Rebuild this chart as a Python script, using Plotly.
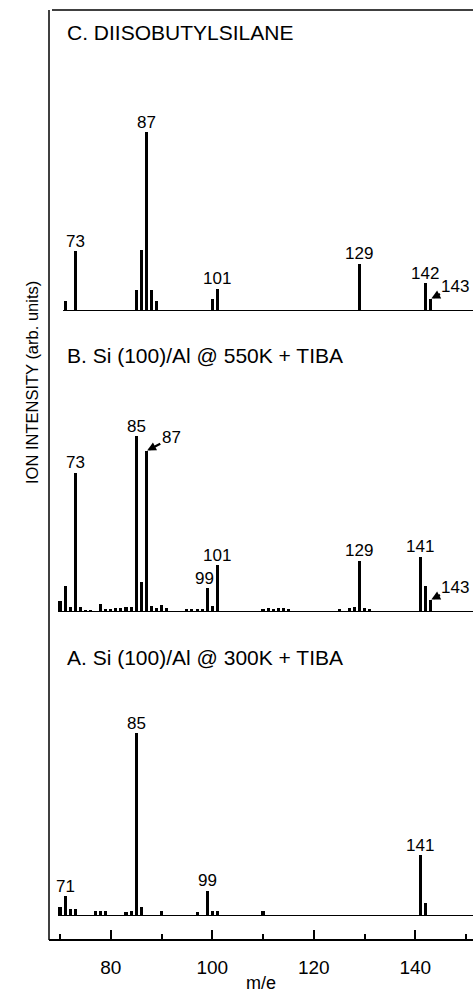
import plotly.graph_objects as go

# ---------------- data (m/e, relative intensity %) ----------------
c_mz = [71, 73, 85, 86, 87, 88, 89, 100, 101, 129, 142, 143]
c_int = [5.6, 33.5, 11.7, 34, 100, 11.7, 5.6, 6.7, 12.3, 26.3, 15.6, 6.7]

b_mz = [70, 71, 72, 73, 74, 75, 76, 78, 79, 80, 81, 82, 83, 84, 85, 86, 87, 88, 89, 90, 91,
        95, 96, 97, 98, 99, 100, 101, 110, 111, 112, 113, 114, 115, 125, 127, 128, 129, 130,
        131, 141, 142, 143]
b_int = [6.3, 14.8, 2.8, 79, 2.8, 1.2, 1.2, 4.5, 1.7, 1.7, 2.3, 2.3, 2.8, 2.8, 100, 17, 91.5,
         3.4, 2.3, 4.0, 2.3, 1.7, 1.7, 1.7, 1.7, 13.6, 3.4, 26.7, 1.7, 2.3, 1.7, 2.3, 2.3, 1.7,
         1.7, 2.3, 2.8, 29, 2.3, 1.7, 31.3, 14.8, 6.8]

a_mz = [70, 71, 72, 73, 77, 78, 79, 83, 84, 85, 86, 90, 97, 99, 100, 101, 110, 141, 142]
a_int = [4.9, 10.9, 3.8, 3.8, 2.7, 2.7, 2.7, 2.2, 2.7, 100, 4.9, 2.7, 2.2, 13.7, 2.7, 2.7,
         2.7, 33.3, 7.1]

c_labels = [73, 87, 101, 129, 142]
c_arrow_labels = [143]
b_labels = [73, 85, 99, 101, 129, 141]
b_arrow_labels = [87, 143]
a_labels = [71, 85, 99, 141]

titles = ["C. DIISOBUTYLSILANE", "B. Si (100)/Al @ 550K + TIBA", "A. Si (100)/Al @ 300K + TIBA"]
baseline_start = [70.6, 70.2, 69.8]
x_ticks = [80, 100, 120, 140]

# ---------------- layout geometry (pixels) ----------------
W, H = 473, 993
L, R, T, B = 49, 0, 10, 53
PH = H - T - B
PW = W - L - R


def fy(py):
    return (H - B - py) / PH


def fx(px):
    return (px - L) / PW


FONT = "Liberation Sans, Arial, Helvetica, sans-serif"
xr = [67.83, 151.38]

# panel: (axis name, baseline px, px per 100 units, top px)
panels = [
    ("y3", 311, 179, 10, c_mz, c_int, c_labels, c_arrow_labels, baseline_start[0]),
    ("y2", 612, 176, 330, b_mz, b_int, b_labels, b_arrow_labels, baseline_start[1]),
    ("y", 916, 183, 640, a_mz, a_int, a_labels, [], baseline_start[2]),
]
title_py = [32, 355, 657]

fig = go.Figure()
annotations = []
layout_axes = {}

for (ax, base, scale, top, mz, inten, labs, alabs, bstart), ttl, tpy in zip(panels, titles, title_py):
    fig.add_trace(go.Bar(x=mz, y=inten, yaxis=ax, xaxis="x", width=0.6,
                         marker=dict(color="black", line=dict(width=0)), showlegend=False))
    fig.add_trace(go.Scatter(x=[bstart, xr[1]], y=[0, 0], yaxis=ax, xaxis="x", mode="lines",
                             line=dict(color="black", width=2), showlegend=False))
    rng = (base - top) / scale * 100
    key = "yaxis" if ax == "y" else "yaxis" + ax[1:]
    layout_axes[key] = dict(domain=[fy(base), fy(top)], range=[0, rng], visible=False,
                            anchor="x", showgrid=False, zeroline=False, fixedrange=True)
    lookup = dict(zip(mz, inten))
    for m in labs:
        xs = -3 if (ax == "y2" and m == 99) else 0
        annotations.append(dict(x=m, y=lookup[m], xref="x", yref=ax, text=str(m),
                                showarrow=False, yanchor="middle", yshift=10, xshift=xs,
                                font=dict(size=17, color="black", family=FONT)))
    for m in alabs:
        annotations.append(dict(x=m, y=lookup[m], xref="x", yref=ax, text=str(m),
                                showarrow=True, arrowhead=2, arrowsize=0.8, arrowwidth=2.2,
                                arrowcolor="black", ax=25, ay=-13, standoff=1,
                                font=dict(size=17, color="black", family=FONT)))
    annotations.append(dict(x=fx(65), y=fy(tpy), xref="paper", yref="paper", text=ttl,
                            showarrow=False, xanchor="left", yanchor="middle",
                            font=dict(size=21, color="black", family=FONT)))

annotations.append(dict(x=fx(32), y=fy(383), xref="paper", yref="paper",
                        text="ION INTENSITY (arb. units)", textangle=-90, showarrow=False,
                        xanchor="center", yanchor="middle",
                        font=dict(size=16.5, color="black", family=FONT)))

fig.update_layout(
    width=W, height=H,
    margin=dict(l=L, r=R, t=T, b=B, pad=0),
    paper_bgcolor="white", plot_bgcolor="white",
    bargap=0,
    xaxis=dict(range=xr, anchor="free", position=0, showline=True, linecolor="black",
               linewidth=2, ticks="inside", ticklen=9, tickwidth=2, tickcolor="black",
               tickvals=x_ticks, ticklabelstandoff=10,
               tickfont=dict(size=19, color="black", family=FONT),
               minor=dict(ticks="inside", ticklen=5, tickwidth=2, tickcolor="black",
                          tick0=70, dtick=20, showgrid=False),
               showgrid=False, zeroline=False, fixedrange=True,
               title=dict(text="m/e", standoff=2,
                          font=dict(size=18, color="black", family=FONT))),
    annotations=annotations,
    shapes=[
        dict(type="line", xref="paper", yref="paper", x0=0, x1=0, y0=0, y1=1,
             line=dict(color="black", width=1.5)),
        dict(type="line", xref="paper", yref="paper", x0=fx(52), x1=1, y0=1, y1=1,
             line=dict(color="black", width=1.5)),
    ],
    **layout_axes,
)

fig.write_html("out.html")
